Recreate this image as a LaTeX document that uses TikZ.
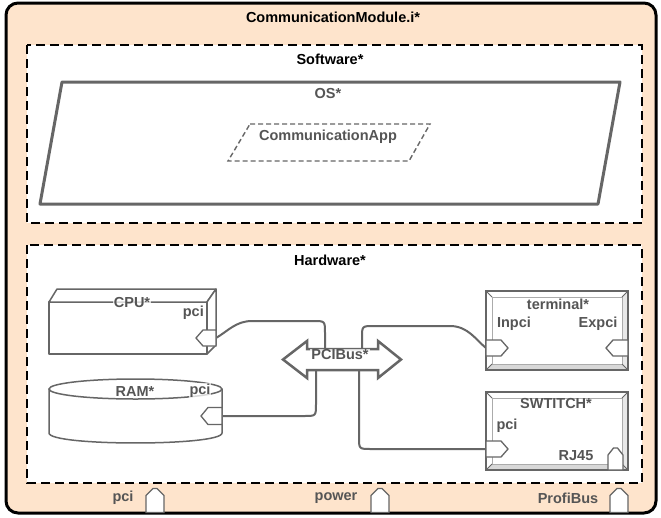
\documentclass[tikz,border=0pt]{standalone}
\usepackage{fontspec}
\setmainfont{Liberation Sans}
\usetikzlibrary{calc}
\definecolor{peach}{HTML}{FEE4CC}
\definecolor{ink}{HTML}{555555}
\definecolor{edge}{HTML}{666666}
\definecolor{bevel}{HTML}{D8D8D8}

\tikzset{
  frame/.style={draw=black, line width=2.5pt, dash pattern=on 9pt off 5pt},
  title/.style={font=\bfseries\fontsize{14.5}{17}\selectfont, text=black, inner sep=1pt},
  lbl/.style={font=\bfseries\fontsize{14.5}{17}\selectfont, text=ink, inner sep=1pt},
  veil/.style={fill=white, fill opacity=.75, text opacity=1},
  shell/.style={draw=edge, line width=1.5pt, fill=white, line join=round},
  wire/.style={draw=edge, line width=2pt},
  portnode/.style={inner sep=0pt, outer sep=0pt, draw=none},
  portline/.style={draw=edge, line width=1.3pt, fill=white, line join=miter},
}

% port glyphs drawn from the anchors of a named port node
\newcommand\portLeft[1]{\path[portline] (#1.north east) -- ([xshift=7pt]#1.north west) -- (#1.west) -- ([xshift=7pt]#1.south west) -- (#1.south east) -- cycle;}
\newcommand\portRight[1]{\path[portline] (#1.north west) -- ([xshift=-7pt]#1.north east) -- (#1.east) -- ([xshift=-7pt]#1.south east) -- (#1.south west) -- cycle;}
\newcommand\portUp[1]{\path[portline] (#1.south west) -- ([yshift=-7pt]#1.north west) -- ([xshift=-2pt]#1.north) -- ([xshift=2pt]#1.north) -- ([yshift=-7pt]#1.north east) -- (#1.south east) -- cycle;}
% bevelled device box
\newcommand\devicebox[4]{%
  \path[draw=edge, line width=1.2pt, fill=white] (#1,#2) rectangle (#3,#4);
  \fill[bevel] (#1,#4) -- ($(#1,#4)+(6,-6)$) -- ($(#3,#4)+(-6,-6)$) -- (#3,#4) -- cycle;
  \fill[bevel!60] (#3,#2) -- ($(#3,#2)+(-6,6)$) -- ($(#3,#4)+(-6,-6)$) -- (#3,#4) -- cycle;
  \draw[edge!55, line width=0.8pt] ($(#1,#2)+(6,6)$) rectangle ($(#3,#4)+(-6,-6)$);
  \draw[edge, line width=0.8pt] (#1,#2) -- ++(6,6) (#3,#2) -- ++(-6,6) (#1,#4) -- ++(6,-6) (#3,#4) -- ++(-6,-6);
  \path[draw=edge, line width=1.2pt] (#1,#2) rectangle (#3,#4);
}

\begin{document}
\begin{tikzpicture}[x=1pt, y=-1pt]
\useasboundingbox (0,0) rectangle (661,517);

% module frame
\path[draw=black, line width=3pt, fill=peach, rounded corners=12pt] (6,3) rectangle (656,513);
\node[title] (module) at (333,17) {CommunicationModule.i*};

% software partition
\path[frame, fill=white] (27,45) rectangle (642,223);
\node[title] (software) at (330,59) {Software*};
\path[draw=edge, line width=3pt, line join=round] (62,82) -- (620,82) -- (598,204) -- (40,204) -- cycle;
\node[lbl] (os) at (328,94) {OS*};
\path[draw=edge, line width=1.4pt, dash pattern=on 5pt off 3pt] (250,124) -- (430,124) -- (409,161) -- (228,161) -- cycle;
\node[lbl] (app) at (328,137) {CommunicationApp};

% hardware partition
\path[frame, fill=white] (27,245) rectangle (642,483);
\node[title] (hardware) at (330,260) {Hardware*};

% CPU
\path[shell] (49,302) rectangle (207,354);
\path[shell] (49,302) -- (57,289) -- (216,289) -- (207,302) -- cycle;
\path[shell] (207,302) -- (216,289) -- (216,345) -- (207,354) -- cycle;
\node[lbl, veil] (cpu) at (132,303) {CPU*};
\node[lbl, anchor=east] (cpuPciLbl) at (205,313) {pci};

% RAM
\path[shell] (49,389) -- (49,433) .. controls (49,446.3) and (222,446.3) .. (222,433) -- (222,389) -- cycle;
\path[shell] (135.5,389) ellipse[x radius=86.5pt, y radius=10pt];
\node[lbl, veil] (ram) at (135,392) {RAM*};
\node[lbl, veil] (ramPciLbl) at (200,391) {pci};

% terminal and switch
\devicebox{486}{291}{628}{370}
\node[lbl] (terminal) at (558,304) {terminal*};
\node[lbl] (inpciLbl) at (514,324) {Inpci};
\node[lbl] (expciLbl) at (598,324) {Expci};
\devicebox{486}{392}{628}{470}
\node[lbl] (switch) at (556,404) {SWTITCH*};
\node[lbl] (swPciLbl) at (507,426) {pci};
\node[lbl] (rjLbl) at (576,456) {RJ45};

% port nodes
\node[portnode, minimum width=20pt, minimum height=16pt] (cpuPci) at (206,338) {};
\node[portnode, minimum width=21pt, minimum height=17pt] (ramPci) at (211.5,416) {};
\node[portnode, minimum width=22pt, minimum height=16pt] (termIn) at (497,348) {};
\node[portnode, minimum width=22pt, minimum height=16pt] (termEx) at (617,348) {};
\node[portnode, minimum width=22pt, minimum height=16pt] (swPci) at (497,449) {};
\node[portnode, minimum width=15pt, minimum height=22pt] (swRj) at (615.5,459) {};
\node[portnode, minimum width=18pt, minimum height=24pt] (modPci) at (155,500.5) {};
\node[portnode, minimum width=18pt, minimum height=24pt] (modPower) at (380,500.5) {};
\node[portnode, minimum width=18pt, minimum height=24pt] (modProfi) at (619,500.5) {};

% bus
\node[portnode, minimum width=71pt, minimum height=21pt] (bus) at (342.5,359.5) {};
\path[draw=edge, line width=2.5pt, fill=white, line join=miter]
  (283,359.5) -- (307,341) -- (307,349) -- (378,349) -- (378,341) -- (401,359.5)
  -- (378,378) -- (378,370) -- (307,370) -- (307,378) -- cycle;

% connections
\draw[wire] (cpuPci.east) .. controls (228,331) and (236,321) .. (252,321) -- (313,321) .. controls (325,321) .. (325,333) -- ([xshift=18pt]bus.north west);
\draw[wire] ([xshift=55pt]bus.north west) -- (362,338) .. controls (362,326) .. (374,326) -- (450,326) .. controls (468,326) and (476,340) .. (termIn.west);
\draw[wire] (ramPci.east) -- (304,416) .. controls (316,416) .. (316,404) -- ([xshift=9pt]bus.south west);
\draw[wire] ([xshift=52pt]bus.south west) -- (359,437) .. controls (359,449) .. (371,449) -- (swPci.west);

\node[lbl, veil] (busLbl) at (340,355) {PCIBus*};

% port glyphs
\portLeft{cpuPci}
\portLeft{ramPci}
\portRight{termIn}
\portLeft{termEx}
\portRight{swPci}
\portUp{swRj}
\portUp{modPci}
\portUp{modPower}
\portUp{modProfi}

% module port labels
\node[lbl] (modPciLbl) at (123,498) {pci};
\node[lbl] (modPowerLbl) at (336,498) {power};
\node[lbl] (modProfiLbl) at (568,498) {ProfiBus};
\end{tikzpicture}
\end{document}
